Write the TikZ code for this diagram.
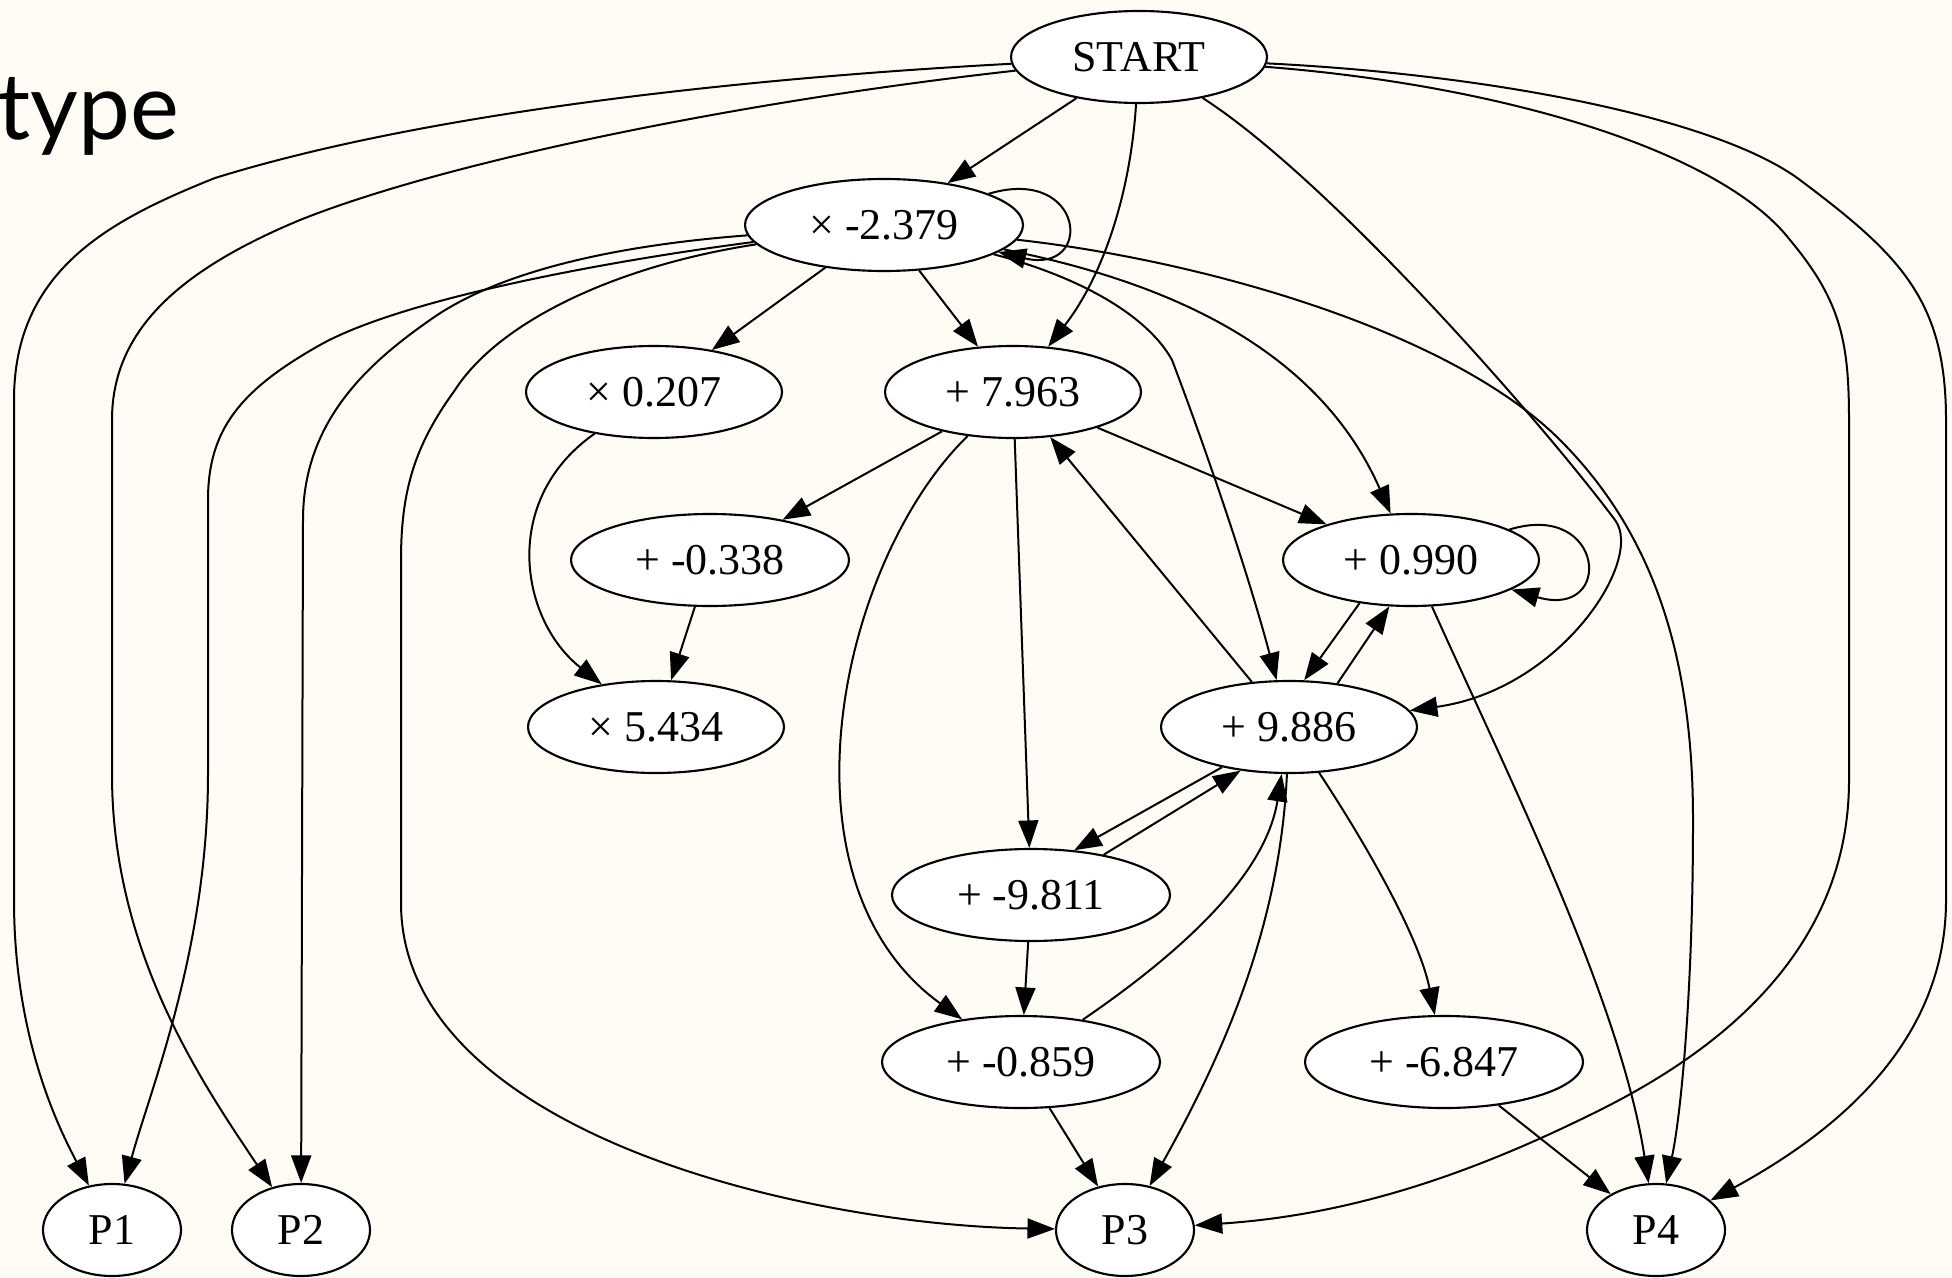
\documentclass[tikz,border=0pt]{standalone}
\usepackage{fontspec}
\setmainfont{Liberation Serif}
\newfontfamily\titlefont{Lato}
\usetikzlibrary{shapes.geometric,arrows.meta}
\definecolor{paper}{RGB}{254,252,244}

\begin{document}
\begin{tikzpicture}[x=0.4pt,y=-0.4pt,
  op/.style={ellipse,draw,fill=white,line width=0.85pt,inner sep=0pt,
    minimum height=36.8pt,minimum width=102.4pt,
    font=\fontsize{17.6}{20}\selectfont},
  wide/.style={minimum width=111.2pt},
  prog/.style={minimum width=55.2pt},
  edge/.style={line width=0.8pt,-{Triangle[length=11pt,width=8pt]}}]

% canvas
\fill[paper] (0,0) rectangle (1952,1278);
\useasboundingbox (0,0) rectangle (1952,1278);

\node[font=\titlefont\fontsize{37}{40}\selectfont,anchor=base west,inner sep=0pt] (title) at (-3,140) {type};

% nodes
\node[op] (S) at (1139,57) {START};
\node[op,wide] (M) at (884,225) {× -2.379};
\node[op] (Z) at (654,392) {× 0.207};
\node[op] (A) at (1013,392) {+ 7.963};
\node[op,wide] (B) at (710,560) {+ -0.338};
\node[op] (C) at (1411,560) {+ 0.990};
\node[op] (X) at (656,727) {× 5.434};
\node[op] (D) at (1289,727) {+ 9.886};
\node[op,wide] (E) at (1031,895) {+ -9.811};
\node[op,wide] (F) at (1021,1062) {+ -0.859};
\node[op,wide] (G) at (1444,1062) {+ -6.847};
\node[op,prog] (P1) at (112,1230) {P1};
\node[op,prog] (P2) at (301,1230) {P2};
\node[op,prog] (P3) at (1125,1230) {P3};
\node[op,prog] (P4) at (1656,1230) {P4};

% edges leaving START
\draw[edge] (S) .. controls (800,75) and (450,105) .. (215,178)
  .. controls (110,220) and (14,270) .. (14,400) -- (14,900)
  .. controls (14,1040) and (60,1130) .. (P1);
\draw[edge] (S) .. controls (750,100) and (450,160) .. (300,220)
  .. controls (180,270) and (112,330) .. (112,420) -- (112,774)
  .. controls (112,950) and (200,1080) .. (P2);
\draw[edge] (S) -- (M);
\draw[edge] (S) .. controls (1130,200) and (1100,280) .. (A);
\draw[edge] (S) .. controls (1330,180) and (1540,420) .. (1615,520)
  .. controls (1645,560) and (1560,690) .. (D);
\draw[edge] (S) .. controls (1500,85) and (1720,150) .. (1790,240)
  .. controls (1840,300) and (1849,340) .. (1849,420) -- (1849,780)
  .. controls (1849,950) and (1720,1050) .. (1600,1110)
  .. controls (1470,1175) and (1350,1215) .. (P3);
\draw[edge] (S) .. controls (1500,75) and (1720,120) .. (1800,180)
  .. controls (1900,255) and (1946,300) .. (1946,420) -- (1946,900)
  .. controls (1946,1040) and (1840,1130) .. (P4);

% edges leaving x -2.379
\draw[edge] (M) .. controls (1085,165) and (1095,275) .. (M);
\draw[edge] (M) -- (Z);
\draw[edge] (M) -- (A);
\draw[edge] (M) .. controls (600,262) and (400,300) .. (320,345)
  .. controls (240,390) and (208,430) .. (208,500) -- (208,774)
  .. controls (208,950) and (150,1090) .. (P1);
\draw[edge] (M) .. controls (620,245) and (500,270) .. (430,320)
  .. controls (370,362) and (303,420) .. (303,520) -- (P2);
\draw[edge] (M) .. controls (620,265) and (500,320) .. (455,390)
  .. controls (415,445) and (401,490) .. (401,560) -- (401,903)
  .. controls (401,1130) and (800,1225) .. (P3);
\draw[edge] (M) .. controls (1200,260) and (1450,330) .. (1560,440)
  .. controls (1650,530) and (1693,650) .. (1693,820)
  .. controls (1693,1000) and (1680,1120) .. (P4);
\draw[edge] (M) .. controls (1130,275) and (1310,330) .. (C);
\draw[edge] (M) .. controls (1090,280) and (1150,320) .. (1172,360)
  .. controls (1210,460) and (1250,580) .. (D);

% x 0.207
\draw[edge] (Z) .. controls (500,500) and (520,620) .. (X);

% + 7.963
\draw[edge] (A) -- (B);
\draw[edge] (A) -- (C);
\draw[edge] (A) -- (E);
\draw[edge] (A) .. controls (840,560) and (770,880) .. (F);

% + -0.338
\draw[edge] (B) -- (X);

% + 0.990
\draw[edge] (C) .. controls (1605,500) and (1615,620) .. (C);
\draw[edge] (C.220) -- (D.72);
\draw[edge] (C) .. controls (1510,780) and (1620,1000) .. (P4);

% + 9.886
\draw[edge] (D.42) -- (C.245);
\draw[edge] (D) -- (A);
\draw[edge] (D.211) -- (E.46);
\draw[edge] (D) .. controls (1280,930) and (1220,1060) .. (P3);
\draw[edge] (D) .. controls (1370,850) and (1420,940) .. (G);

% + -9.811
\draw[edge] (E.29) -- (D.222);
\draw[edge] (E) -- (F);

% + -0.859
\draw[edge] (F) .. controls (1170,960) and (1265,880) .. (D);
\draw[edge] (F) -- (P3);

% + -6.847
\draw[edge] (G) -- (P4);
\end{tikzpicture}
\end{document}
